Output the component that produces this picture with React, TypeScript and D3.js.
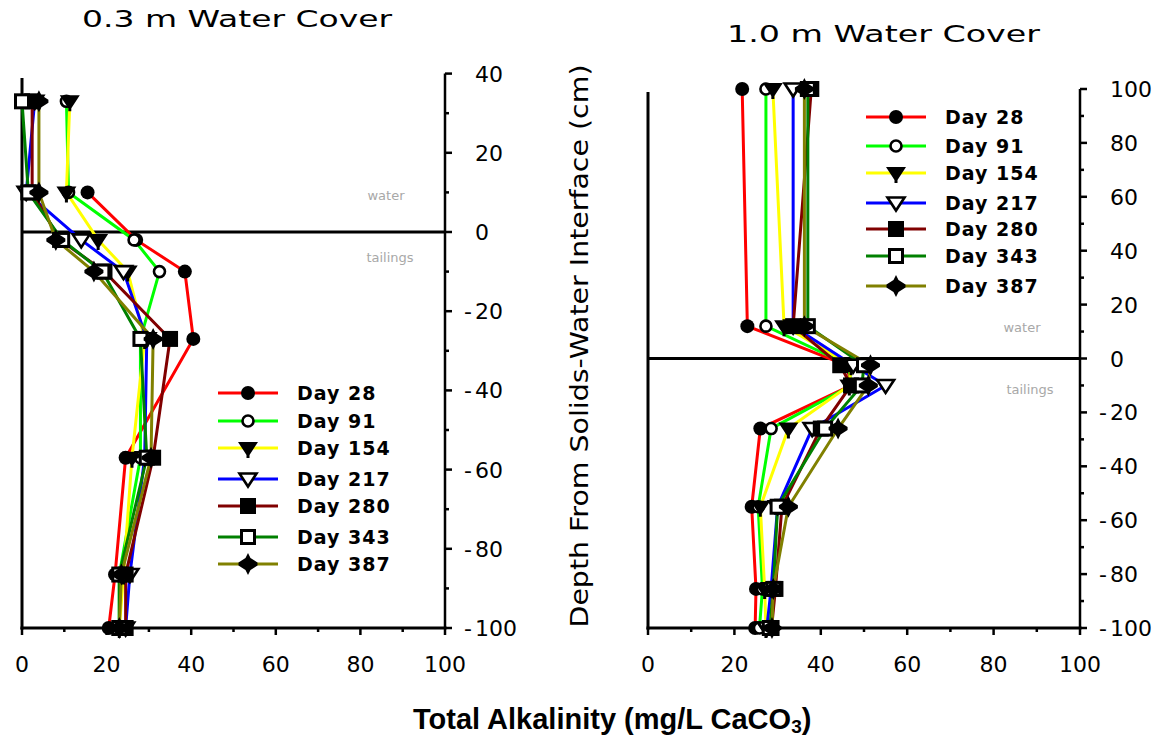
import React from 'react';
import * as d3 from 'd3';

// legend / series
const dayLabels = ['Day 28', 'Day 91', 'Day 154', 'Day 217', 'Day 280', 'Day 343', 'Day 387'];
const dayColors = ['#ff0000', '#00ff00', '#ffff00', '#0000ff', '#800000', '#008000', '#808000'];

// 0.3 m water cover: sampling depths (cm) and alkalinity per day
const depths03 = [33, 10, -2, -10, -27, -57, -86.5, -100];
const alk03Day28 = [null, 15.5, 27, 38.5, 40.5, 24.5, 22, 20.5];
const alk03Day91 = [10.5, 11, 26.5, 32.5, 28, 28, 23, 23];
const alk03Day154 = [11.3, 10.5, 18, 25, 29, 26, 24, 23];
const alk03Day217 = [3, 1, 14, 24, 29.5, 29, 25.5, 24.5];
const alk03Day280 = [2.4, 2.4, 9, 19.5, 35, 31, 24.5, 24.5];
const alk03Day343 = [0, 1.5, 9.5, 19, 28, 29.5, 23, 23];
const alk03Day387 = [4, 4, 8, 17, 31, 30.5, 23.5, 23];

// 1.0 m water cover
const depths10 = [100, 12, -2.5, -10, -26, -55, -85.5, -100];
const alk10Day28 = [21.8, 23, 46, 47, 26, 24, 25, 24.8];
const alk10Day91 = [27.3, 27.3, 46.5, 47, 28.5, 25.5, 26.5, 25.8];
const alk10Day154 = [28.9, 31.5, 47, 46.6, 32.5, 26, 27, 27.3];
const alk10Day217 = [33.6, 33.6, 47.5, 55, 38, 30, 28.5, 27.5];
const alk10Day280 = [37.8, 33.6, 44.5, 47, 40, 31, 29.5, 28.6];
const alk10Day343 = [37, 37, 50, 49.5, 41, 30, 29, 28.2];
const alk10Day387 = [36.2, 36.2, 51.5, 51, 44, 32.5, 29, 28.7];

const xTicks = [0, 20, 40, 60, 80, 100];
const yTicks03 = [40, 20, 0, -20, -40, -60, -80, -100];
const yTicks10 = [100, 80, 60, 40, 20, 0, -20, -40, -60, -80, -100];

const series03 = [alk03Day28, alk03Day91, alk03Day154, alk03Day217, alk03Day280, alk03Day343, alk03Day387];
const series10 = [alk10Day28, alk10Day91, alk10Day154, alk10Day217, alk10Day280, alk10Day343, alk10Day387];

const tickFont = '"DejaVu Sans", sans-serif';

function Marker({ kind, x, y }: { kind: number; x: number; y: number }) {
  const t = `translate(${x},${y})`;
  switch (kind) {
    case 0:
      return <circle cx={x} cy={y} r={7} fill="#000" />;
    case 1:
      return <circle cx={x} cy={y} r={5.5} fill="#fff" stroke="#000" strokeWidth={2.6} />;
    case 2:
      return <path transform={t} d="M-10,-6L10,-6L1.5,7L1.5,10L-1.5,10L-1.5,7Z" fill="#000" />;
    case 3:
      return <path transform={t} d="M-8.5,-5.5L8.5,-5.5L0,7.5Z" fill="#fff" stroke="#000" strokeWidth={2.6} strokeLinejoin="miter" />;
    case 4:
      return <rect x={x - 8} y={y - 8} width={16} height={16} fill="#000" />;
    case 5:
      return <rect x={x - 6.5} y={y - 6.5} width={13} height={13} fill="#fff" stroke="#000" strokeWidth={3} />;
    default:
      return <path transform={t} d="M0,-11L2.5,-6L9.5,-1.5L9.5,1.5L2.5,6L0,11L-2.5,6L-9.5,1.5L-9.5,-1.5L-2.5,-6Z" fill="#000" />;
  }
}

interface PanelProps {
  x0: number; x1: number; yTop: number; yBottom: number;
  yMax: number; depths: number[]; series: (number | null)[][];
  yTicks: number[]; leftAxisTop: number;
  title: string; titleX: number; titleY: number; titleLen: number;
  legendX: number; legendRows: number[];
  waterPos: [number, number]; tailPos: [number, number];
}

function Panel(p: PanelProps) {
  const x = d3.scaleLinear().domain([0, 100]).range([p.x0, p.x1]);
  const y = d3.scaleLinear().domain([-100, p.yMax]).range([p.yBottom, p.yTop]);
  const line = d3.line<[number, number | null]>()
    .defined(d => d[1] != null)
    .x(d => x(d[1] as number))
    .y(d => y(d[0]));
  const minorX = d3.range(0, 101, 10);
  const minorY = d3.range(-100, p.yMax + 1, 10);

  return (
    <g>
      <text x={p.titleX} y={p.titleY} fontFamily={tickFont} fontSize={23} textLength={p.titleLen} lengthAdjust="spacingAndGlyphs">{p.title}</text>

      {/* axes */}
      <line x1={p.x0} x2={p.x0} y1={p.leftAxisTop} y2={p.yBottom + 1.5} stroke="#000" strokeWidth={3} />
      <line x1={p.x0 - 1.5} x2={p.x1 + 1.5} y1={p.yBottom} y2={p.yBottom} stroke="#000" strokeWidth={3} />
      <line x1={p.x1} x2={p.x1} y1={y(p.yMax)} y2={p.yBottom} stroke="#000" strokeWidth={2.5} />
      <line x1={p.x0} x2={p.x1} y1={y(0)} y2={y(0)} stroke="#000" strokeWidth={3} />

      {minorX.map(v => (
        <line key={'xt' + v} x1={x(v)} x2={x(v)} y1={p.yBottom} y2={p.yBottom + (v % 20 === 0 ? 7 : 4)} stroke="#000" strokeWidth={2.5} />
      ))}
      {minorY.map(v => (
        <line key={'yt' + v} x1={p.x1} x2={p.x1 + (v % 20 === 0 ? 7 : 4)} y1={y(v)} y2={y(v)} stroke="#000" strokeWidth={2.5} />
      ))}
      {xTicks.map(v => (
        <text key={'xl' + v} x={x(v)} y={672} textAnchor="middle" fontFamily={tickFont} fontSize={22}>{v}</text>
      ))}
      {p.yTicks.map(v => (
        <g key={'yl' + v}>
          {v < 0 && <text x={p.x1 + 27} y={y(v) + 8} textAnchor="end" fontFamily={tickFont} fontSize={22}>-</text>}
          <text x={p.x1 + 30} y={y(v) + 8} fontFamily={tickFont} fontSize={22}>{Math.abs(v)}</text>
        </g>
      ))}

      <text x={p.waterPos[0]} y={p.waterPos[1]} textAnchor="middle" fontFamily={tickFont} fontSize={13} fill="#a8a8a8">water</text>
      <text x={p.tailPos[0]} y={p.tailPos[1]} textAnchor="middle" fontFamily={tickFont} fontSize={13} fill="#a8a8a8">tailings</text>

      {/* profiles */}
      {p.series.map((vals, i) => (
        <path key={'ln' + i} d={line(p.depths.map((d, j) => [d, vals[j]]) as any) || ''} fill="none" stroke={dayColors[i]} strokeWidth={3} />
      ))}
      {p.series.map((vals, i) => (
        <g key={'mk' + i}>
          {p.depths.map((d, j) => vals[j] == null ? null : <Marker key={j} kind={i} x={x(vals[j] as number)} y={y(d)} />)}
        </g>
      ))}

      {/* legend */}
      {dayLabels.map((lab, i) => (
        <g key={'lg' + i}>
          <line x1={p.legendX} x2={p.legendX + 60} y1={p.legendRows[i]} y2={p.legendRows[i]} stroke={dayColors[i]} strokeWidth={3} />
          <Marker kind={i} x={p.legendX + 30} y={p.legendRows[i]} />
          <text x={p.legendX + 79} y={p.legendRows[i] + 7} fontFamily={tickFont} fontWeight="bold" fontSize={19} letterSpacing={1}>{lab}</text>
        </g>
      ))}
    </g>
  );
}

export default function App() {
  return (
    <svg width={1165} height={737} style={{ position: 'absolute', left: 0, top: 0, background: '#fff' }}>
      <rect width={1165} height={737} fill="#fff" />
      <Panel
        x0={22} x1={445} yTop={73.6} yBottom={628} yMax={40}
        depths={depths03} series={series03} yTicks={yTicks03} leftAxisTop={78}
        title="0.3 m Water Cover" titleX={82} titleY={27} titleLen={310}
        legendX={218} legendRows={[393, 421, 448, 479, 506, 537, 564]}
        waterPos={[386, 200]} tailPos={[390, 262]}
      />
      <Panel
        x0={648} x1={1080} yTop={89} yBottom={628} yMax={100}
        depths={depths10} series={series10} yTicks={yTicks10} leftAxisTop={92}
        title="1.0 m Water Cover" titleX={727} titleY={42} titleLen={313}
        legendX={866} legendRows={[117, 146, 173, 203, 229, 256, 286]}
        waterPos={[1022, 332]} tailPos={[1030, 394]}
      />
      <text transform="translate(588,346) rotate(-90)" textAnchor="middle" fontFamily={tickFont} fontSize={24} textLength={563} lengthAdjust="spacingAndGlyphs">Depth From Solids-Water Interface (cm)</text>
      <text x={413} y={729} fontFamily='"Liberation Sans", Arial, sans-serif' fontWeight="bold" fontSize={29}>
        Total Alkalinity (mg/L CaCO<tspan fontSize={19} dy={4}>3</tspan><tspan dy={-4}>)</tspan>
      </text>
    </svg>
  );
}
